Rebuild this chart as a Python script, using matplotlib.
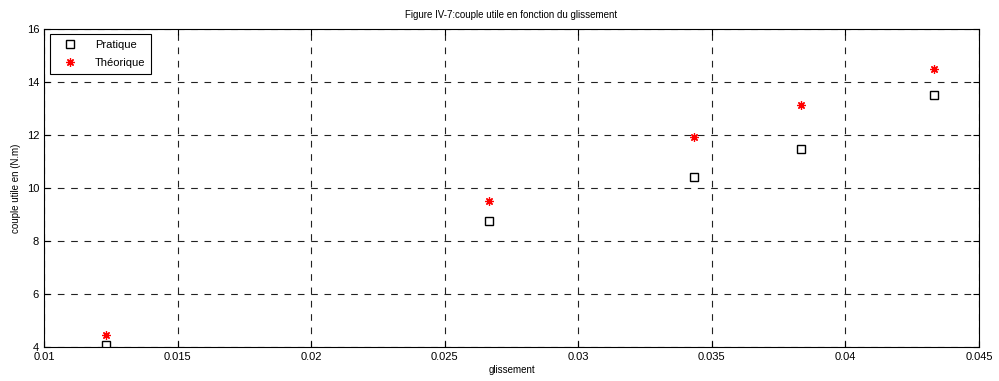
import matplotlib
matplotlib.use('Agg')
from matplotlib import pyplot as plt

glissement = [0.01232, 0.02667, 0.03434, 0.03834, 0.04333]
couple_pratique = [4.07, 8.77, 10.40, 11.48, 13.50]
couple_theorique = [4.45, 9.50, 11.91, 13.11, 14.48]

plt.rcParams['font.family'] = ['Liberation Sans', 'DejaVu Sans']

fig = plt.figure(figsize=(9.99, 3.81), dpi=100)
ax = fig.add_axes([0.044, 0.0892, 0.936, 0.835])

ax.plot(glissement, couple_pratique, linestyle='none', marker='s', markersize=6,
        markerfacecolor='none', markeredgecolor='black', markeredgewidth=1, label='Pratique')
ax.plot(glissement, couple_theorique, linestyle='none', marker=(8, 2, 0), markersize=6,
        color='red', markeredgewidth=0.9, label='Théorique')

ax.set_xlim(0.01, 0.045)
ax.set_ylim(4, 16)
ax.set_xticks([0.01, 0.015, 0.02, 0.025, 0.03, 0.035, 0.04, 0.045])
ax.set_xticklabels(['0.01', '0.015', '0.02', '0.025', '0.03', '0.035', '0.04', '0.045'])
ax.set_yticks([4, 6, 8, 10, 12, 14, 16])

ax.grid(True, color='#222222', linestyle=(0, (6, 6)), linewidth=0.8)
ax.tick_params(direction='in', labelsize=8, length=4, width=0.8, top=True, right=True)
for s in ax.spines.values():
    s.set_linewidth(0.8)

ax.set_title('Figure IV-7:couple utile en fonction du glissement', fontsize=7, pad=8)
ax.set_xlabel('glissement', fontsize=7, labelpad=2)
ax.set_ylabel('couple utile en (N.m)', fontsize=7, labelpad=4)

leg = ax.legend(loc='upper left', fontsize=8, fancybox=False, edgecolor='black',
                framealpha=1, borderaxespad=0.5, borderpad=0.5, labelspacing=0.75,
                handlelength=2.6, handletextpad=1.0)
leg.get_frame().set_linewidth(0.8)

fig.savefig('out.png', dpi=100)
